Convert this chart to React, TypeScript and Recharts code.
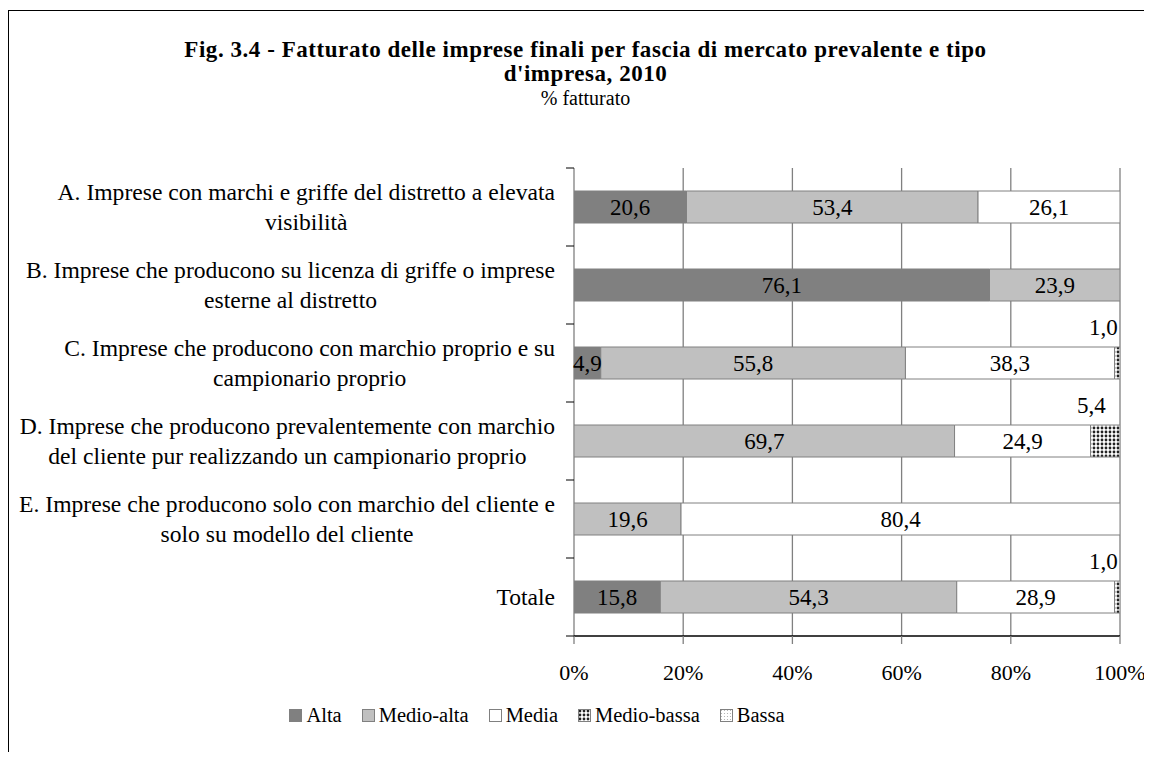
import { BarChart, Bar, XAxis, YAxis, CartesianGrid, LabelList } from 'recharts';

const categories = [
  ['A. Imprese con marchi e griffe del distretto a elevata', 'visibilità'],
  ['B. Imprese che producono su licenza di griffe o imprese', 'esterne al distretto'],
  ['C. Imprese che producono con marchio proprio e su', 'campionario proprio'],
  ['D. Imprese che producono prevalentemente con marchio', 'del cliente pur realizzando un campionario proprio'],
  ['E. Imprese che producono solo con marchio del cliente e', 'solo su modello del cliente'],
  ['Totale'],
];

const alta = [20.6, 76.1, 4.9, 0, 0, 15.8];
const medioAlta = [53.4, 23.9, 55.8, 69.7, 19.6, 54.3];
const media = [26.1, 0, 38.3, 24.9, 80.4, 28.9];
const medioBassa = [0, 0, 1.0, 5.4, 0, 1.0];
const bassa = [0, 0, 0, 0, 0, 0];

const xTicks = [0, 20, 40, 60, 80, 100];

const seriesNames = ['Alta', 'Medio-alta', 'Media', 'Medio-bassa', 'Bassa'];

const data = categories.map((lines, i) => ({
  name: lines.join(' '),
  lines,
  alta: alta[i],
  medioAlta: medioAlta[i],
  media: media[i],
  medioBassa: medioBassa[i],
  bassa: bassa[i],
}));

const FONT = "'Liberation Serif', 'Times New Roman', serif";
const W = 1144;
const H = 742;
const PLOT_LEFT = 566;
const PLOT_TOP = 158;
const PLOT_H = 468;
const BAND = PLOT_H / categories.length;

const fmt = (v: number) => v.toFixed(1).replace('.', ',');

const fills: Record<string, string> = {
  Alta: '#808080',
  'Medio-alta': '#c0c0c0',
  Media: '#ffffff',
  'Medio-bassa': 'url(#dotsDark)',
  Bassa: 'url(#dotsLight)',
};

const PatternDefs = ({ suffix = '' }: { suffix?: string }) => (
  <defs>
    <pattern id={`dotsDark${suffix}`} width="4" height="4" patternUnits="userSpaceOnUse">
      <rect width="4" height="4" fill="#fff" />
      <circle cx="2" cy="2" r="1.4" fill="#222" />
    </pattern>
    <pattern id={`dotsLight${suffix}`} width="3" height="3" patternUnits="userSpaceOnUse">
      <rect width="3" height="3" fill="#fff" />
      <circle cx="1.5" cy="1.5" r="0.6" fill="#aaa" />
    </pattern>
  </defs>
);

const InnerLabel = (props: any) => {
  const { x, y, width, height, value } = props;
  if (!value) return null;
  return (
    <text
      x={x + width / 2}
      y={y + height / 2}
      textAnchor="middle"
      dominantBaseline="central"
      style={{ fontFamily: FONT, fontSize: 23 }}
      fill="#000"
    >
      {fmt(value)}
    </text>
  );
};

// small segments get their value written above the bar
const OuterLabel = (props: any) => {
  const { x, y, width, value } = props;
  if (!value) return null;
  return (
    <text
      x={x + width / 2 - 14}
      y={y - 20}
      textAnchor="middle"
      dominantBaseline="central"
      style={{ fontFamily: FONT, fontSize: 23 }}
      fill="#000"
    >
      {fmt(value)}
    </text>
  );
};

const CategoryTick = (props: any) => {
  const { y, payload, index } = props;
  const lines = data.find((d) => d.name === payload.value)?.lines ?? [payload.value];
  const last = index === categories.length - 1;
  return (
    <g>
      <line x1={PLOT_LEFT - 8} x2={PLOT_LEFT} y1={y - BAND / 2} y2={y - BAND / 2} stroke="#000" />
      {last && (
        <line x1={PLOT_LEFT - 8} x2={PLOT_LEFT} y1={y + BAND / 2} y2={y + BAND / 2} stroke="#000" />
      )}
      <foreignObject x={0} y={y - BAND / 2} width={PLOT_LEFT - 19} height={BAND}>
        <div
          style={{
            width: '100%',
            height: '100%',
            display: 'flex',
            justifyContent: 'flex-end',
            alignItems: 'center',
          }}
        >
          <div
            style={{
              textAlign: 'center',
              fontFamily: FONT,
              fontSize: 23.6,
              lineHeight: '30px',
              color: '#000',
              whiteSpace: 'nowrap',
            }}
          >
            {lines.map((l: string, i: number) => (
              <div key={i}>{l}</div>
            ))}
          </div>
        </div>
      </foreignObject>
    </g>
  );
};

const PercentTick = (props: any) => {
  const { x, payload } = props;
  return (
    <text
      x={x}
      y={PLOT_TOP + PLOT_H + 36}
      textAnchor="middle"
      dominantBaseline="central"
      style={{ fontFamily: FONT, fontSize: 22 }}
      fill="#000"
    >
      {`${payload.value}%`}
    </text>
  );
};

export default function App() {
  return (
    <div
      style={{
        marginTop: 2,
        position: 'relative',
        width: W,
        height: H,
        overflow: 'hidden',
        fontFamily: FONT,
      }}
    >
      <div
        style={{
          position: 'absolute',
          left: 0,
          top: 0,
          width: 1200,
          height: 800,
          border: '1.5px solid #000',
          boxSizing: 'border-box',
        }}
      />
      <div
        style={{
          position: 'absolute',
          left: 0,
          top: 28,
          width: 1155,
          textAlign: 'center',
          color: '#000',
        }}
      >
        <div style={{ fontWeight: 'bold', fontSize: 23, letterSpacing: 0.55, lineHeight: '24px' }}>
          Fig. 3.4 - Fatturato delle imprese finali per fascia di mercato prevalente e tipo
        </div>
        <div style={{ fontWeight: 'bold', fontSize: 23, letterSpacing: 0.55, lineHeight: '24px' }}>
          d'impresa, 2010
        </div>
        <div style={{ fontSize: 20, lineHeight: '24px' }}>% fatturato</div>
      </div>
      <div style={{ position: 'absolute', left: 0, top: 0 }}>
        <BarChart
          width={W}
          height={H}
          data={data}
          layout="vertical"
          margin={{ top: PLOT_TOP, right: 32, bottom: 76, left: 0 }}
          barSize={32}
        >
          <PatternDefs />
          <CartesianGrid horizontal={false} stroke="#808080" strokeWidth={1.3} />
          <XAxis
            type="number"
            domain={[0, 100]}
            ticks={xTicks}
            allowDataOverflow
            height={40}
            axisLine={{ stroke: '#000', strokeWidth: 1.3 }}
            tickLine={{ stroke: '#808080', strokeWidth: 1.3 }}
            tickSize={8}
            tick={<PercentTick />}
          />
          <YAxis
            type="category"
            dataKey="name"
            width={PLOT_LEFT}
            axisLine={false}
            tickLine={false}
            tick={<CategoryTick />}
            interval={0}
          />
          <Bar dataKey="alta" stackId="s" fill={fills.Alta} stroke="#808080" isAnimationActive={false}>
            <LabelList dataKey="alta" content={<InnerLabel />} />
          </Bar>
          <Bar dataKey="medioAlta" stackId="s" fill={fills['Medio-alta']} stroke="#808080" isAnimationActive={false}>
            <LabelList dataKey="medioAlta" content={<InnerLabel />} />
          </Bar>
          <Bar dataKey="media" stackId="s" fill={fills.Media} stroke="#808080" isAnimationActive={false}>
            <LabelList dataKey="media" content={<InnerLabel />} />
          </Bar>
          <Bar dataKey="medioBassa" stackId="s" fill={fills['Medio-bassa']} stroke="#808080" isAnimationActive={false}>
            <LabelList dataKey="medioBassa" content={<OuterLabel />} />
          </Bar>
          <Bar dataKey="bassa" stackId="s" fill={fills.Bassa} stroke="#808080" isAnimationActive={false} />
        </BarChart>
      </div>
      <div
        style={{
          position: 'absolute',
          left: 0,
          top: 694,
          width: 1058,
          display: 'flex',
          justifyContent: 'center',
          alignItems: 'center',
          fontSize: 20.5,
          color: '#000',
          gap: 20,
        }}
      >
        {seriesNames.map((s) => (
          <div key={s} style={{ display: 'flex', alignItems: 'center', gap: 4 }}>
            <svg width={13} height={13}>
              <PatternDefs suffix={`-${s}`} />
              <rect
                x={0.5}
                y={0.5}
                width={12}
                height={12}
                fill={fills[s].startsWith('url') ? fills[s].replace(')', `-${s})`) : fills[s]}
                stroke="#808080"
              />
            </svg>
            <span>{s}</span>
          </div>
        ))}
      </div>
    </div>
  );
}
